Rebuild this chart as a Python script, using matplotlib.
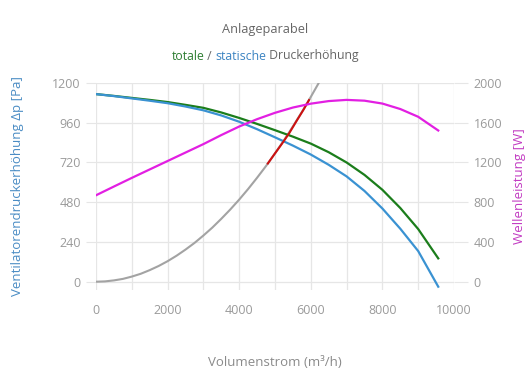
import matplotlib
matplotlib.use("Agg")
import matplotlib.pyplot as plt
from matplotlib.offsetbox import TextArea, HPacker, AnchoredOffsetbox

plt.rcParams["font.family"] = ["Open Sans", "DejaVu Sans"]

# Volumenstrom (m³/h)
flow = [0, 500, 1000, 1500, 2000, 2500, 3000, 3500, 4000, 4500,
        5000, 5500, 6000, 6500, 7000, 7500, 8000, 8500, 9000, 9560]

# totale / statische Druckerhöhung (Pa)
p_total = [1133, 1122, 1110, 1098, 1085, 1068, 1050, 1022, 989, 953,
           915, 876, 834, 782, 720, 645, 555, 445, 318, 141]
p_static = [1133, 1121, 1107, 1093, 1078, 1058, 1035, 1004, 966, 921,
            872, 822, 768, 706, 636, 548, 442, 320, 185, -30]

# Wellenleistung (W)
power = [870, 958, 1045, 1130, 1215, 1300, 1385, 1476, 1562, 1636,
         1700, 1753, 1792, 1818, 1830, 1822, 1793, 1738, 1660, 1522]

# Anlageparabel
sys_flow = [0, 250, 500, 750, 1000, 1250, 1500, 1750, 2000, 2250, 2500,
            2750, 3000, 3250, 3500, 3750, 4000, 4250, 4500, 4750, 5000,
            5250, 5500, 5750, 6000, 6250, 6300]
sys_p = [0, 2, 8, 17, 31, 48, 70, 95, 124, 157, 194, 234, 279, 327, 380,
         436, 496, 560, 628, 699, 775, 854, 938, 1025, 1116, 1211, 1230]

# Betriebsbereich
op_flow = [4800, 5000, 5200, 5400, 5600, 5800, 5950]
op_p = [714, 775, 835, 898, 970, 1040, 1097]

BLUE = "#3a92d2"
GREEN = "#1b7d1b"
MAGENTA = "#e21fe2"
GRAY = "#a3a3a3"
RED = "#cc1111"
TXT = "#9a9a9a"
GRID = "#e6e6e6"

fig = plt.figure(figsize=(5.3, 3.9), dpi=100)
ax = fig.add_axes([96 / 530, 1 - 290 / 390, (454 - 96) / 530, (290 - 83) / 390])
ax2 = ax.twinx()

ax.plot(sys_flow, sys_p, color=GRAY, lw=1.5, zorder=3)
ax.plot(op_flow, op_p, color=RED, lw=1.5, zorder=4)
ax.plot(flow, p_total, color=GREEN, lw=1.6, zorder=3)
ax.plot(flow, p_static, color=BLUE, lw=1.6, zorder=3)
ax2.plot(flow, power, color=MAGENTA, lw=1.6)

ax.set_xlim(0, 10000)
ax.set_ylim(-50, 1200)
ax2.set_ylim(-50 * 2000 / 1200, 2000)

ax.set_xticks(range(0, 10001, 2000))
ax.set_xticks(range(1000, 10000, 2000), minor=True)
ax.set_yticks(range(0, 1201, 240))
ax2.set_yticks(range(0, 2001, 400))

ax.grid(True, which="both", color=GRID, lw=0.9)
ax.set_axisbelow(True)
for a in (ax, ax2):
    for s in a.spines.values():
        s.set_visible(False)

ax.tick_params(axis="x", which="both", length=0, pad=10, labelsize=9, labelcolor=TXT)
ax.tick_params(axis="y", length=7, color=GRID, pad=4, labelsize=9, labelcolor=TXT)
ax2.tick_params(axis="y", length=10, color=GRID, pad=4, labelsize=9, labelcolor=TXT)

ax.set_ylabel("Ventilatorendruckerhöhung Δp [Pa]", color="#4a8cc4", fontsize=9.5, labelpad=20)
ax2.set_ylabel("Wellenleistung [W]", color="#c23cc2", fontsize=9.5, labelpad=8)
ax.set_xlabel("Volumenstrom (m³/h)", color="#8a8a8a", fontsize=9.5, labelpad=28)

fig.text(0.5, 1 - 29 / 390, "Anlageparabel", ha="center", va="center",
         color="#666666", fontsize=9.2)

parts = [("totale", "#2e7d32"), (" / ", "#666666"),
         ("statische", "#3c84c2"), (" Druckerhöhung", "#666666")]
boxes = [TextArea(t, textprops=dict(color=c, fontsize=8.8)) for t, c in parts]
pack = HPacker(children=boxes, align="baseline", pad=0, sep=0)
sub = AnchoredOffsetbox(loc="center", child=pack, frameon=False,
                        bbox_to_anchor=(0.5, 1 - 56 / 390),
                        bbox_transform=fig.transFigure, borderpad=0, pad=0)
fig.add_artist(sub)

fig.savefig("out.png", dpi=100)
